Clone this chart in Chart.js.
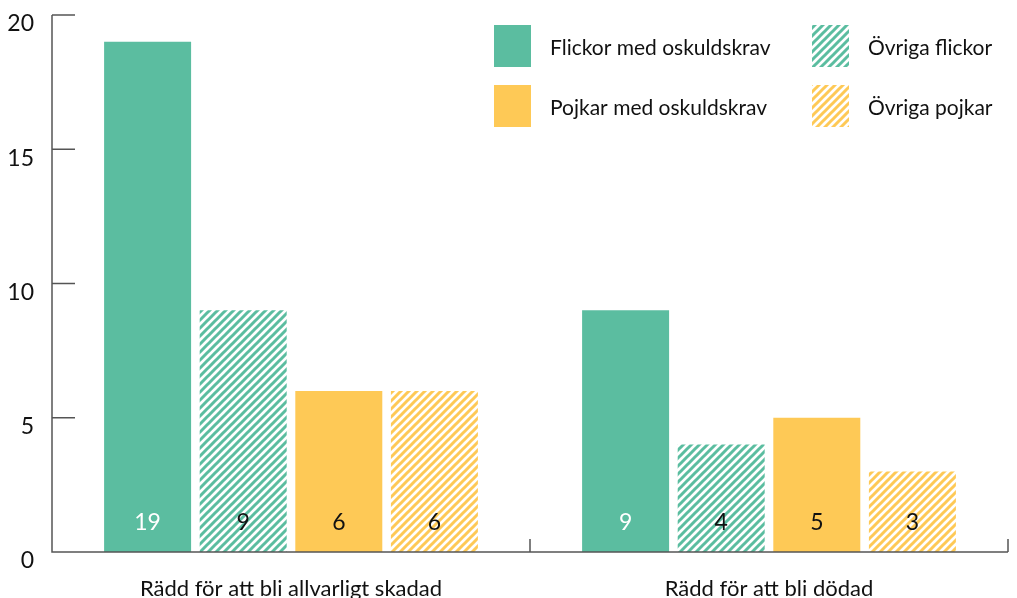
<!DOCTYPE html>
<html>
<head>
<meta charset="utf-8">
<script src="https://cdn.jsdelivr.net/npm/chart.js@4/dist/chart.umd.min.js"></script>
<style>
  html, body { margin: 0; padding: 0; background: #fff; }
  #wrap { width: 1017px; height: 598px; }
</style>
</head>
<body>
<div id="wrap"><canvas id="chart"></canvas></div>
<script>
const categories = ['Rädd för att bli allvarligt skadad', 'Rädd för att bli dödad'];
const seriesNames = ['Flickor med oskuldskrav', 'Övriga flickor', 'Pojkar med oskuldskrav', 'Övriga pojkar'];
const flickorMed = [19, 9];
const ovrigaFlickor = [9, 4];
const pojkarMed = [6, 5];
const ovrigaPojkar = [6, 3];
const yTicks = [0, 5, 10, 15, 20];

const GREEN = '#5bbda0'
const YELLOW = '#fec956'
const AXIS = '#555'
const FONT = 'Lato, "Noto Sans", sans-serif'


function stripes(color) {
    const size = 8
    const c = document.createElement('canvas')
    c.width = size
    c.height = size
    const ctx = c.getContext('2d')
    ctx.fillStyle = '#fff'
    ctx.fillRect(0, 0, size, size)
    ctx.strokeStyle = color
    ctx.lineWidth = 3
    ctx.beginPath()
    ctx.moveTo(-size / 2, size / 2); ctx.lineTo(size / 2, -size / 2)
    ctx.moveTo(0, size); ctx.lineTo(size, 0)
    ctx.moveTo(size / 2, size * 1.5); ctx.lineTo(size * 1.5, size / 2)
    ctx.stroke()
    return ctx.createPattern(c, 'repeat')
}

const fills = [GREEN, stripes(GREEN), YELLOW, stripes(YELLOW)]
const labelColors = ['#fff', '#111', '#111', '#111']


// axes with inward ticks, drawn from the scales
const axesPlugin = {
    id: 'axes',
    afterDatasetsDraw(chart) {
        const { ctx, chartArea, scales: { x, y } } = chart
        ctx.save()
        ctx.strokeStyle = AXIS
        ctx.lineWidth = 1.5
        ctx.beginPath()
        ctx.moveTo(chartArea.left, chartArea.top)
        ctx.lineTo(chartArea.left, chartArea.bottom)
        ctx.lineTo(chartArea.right, chartArea.bottom)
        yTicks.forEach((v) => {
            const py = y.getPixelForValue(v)
            ctx.moveTo(chartArea.left, py)
            ctx.lineTo(chartArea.left + 23, py)
        })
        categories.forEach((c, i) => {
            const px = x.getPixelForValue(i + 0.5)
            ctx.moveTo(px, chartArea.bottom)
            ctx.lineTo(px, chartArea.bottom - 13)
        })
        ctx.stroke()

        // value labels near the bottom of each bar
        ctx.font = '23px ' + FONT
        ctx.textAlign = 'center'
        ctx.textBaseline = 'middle'
        chart.data.datasets.forEach((ds, di) => {
            chart.getDatasetMeta(di).data.forEach((bar, i) => {
                ctx.fillStyle = labelColors[di]
                ctx.fillText(String(ds.data[i]), bar.x, chartArea.bottom - 29)
            })
        })
        ctx.restore()
    }
}


// 2 x 2 legend inside the plot
const legendPlugin = {
    id: 'gridLegend',
    afterDraw(chart) {
        const { ctx } = chart
        const cols = [494, 812]
        const rows = [25, 85]
        ctx.save()
        ctx.font = '21px ' + FONT
        ctx.textBaseline = 'middle'
        ctx.textAlign = 'left'
        chart.data.datasets.forEach((ds, i) => {
            const bx = cols[i % 2]
            const by = rows[Math.floor(i / 2)]
            ctx.fillStyle = ds.backgroundColor
            ctx.fillRect(bx, by, 37, 42)
            ctx.fillStyle = '#111'
            ctx.fillText(ds.label, bx + 56, by + 23)
        })
        ctx.restore()
    }
}


new Chart(document.getElementById('chart'), {
    type: 'bar',
    data: {
        labels: categories,
        datasets: [flickorMed, ovrigaFlickor, pojkarMed, ovrigaPojkar].map((d, i) => ({
            label: seriesNames[i],
            data: d,
            backgroundColor: fills[i],
            borderWidth: 0,
            categoryPercentage: 0.8,
            barPercentage: 0.91
        }))
    },
    options: {
        responsive: true,
        maintainAspectRatio: false,
        animation: false,
        layout: { padding: { top: 15, right: 9, left: 0, bottom: 0 } },
        plugins: {
            legend: { display: false },
            tooltip: { enabled: false }
        },
        scales: {
            x: {
                grid: { display: false, drawTicks: false },
                border: { display: false },
                ticks: {
                    color: '#111',
                    font: { family: FONT, size: 22 },
                    padding: 24,
                    maxRotation: 0
                },
                afterFit(scale) {
                    scale.height = 46
                    scale.paddingLeft = 0
                    scale.paddingRight = 0
                }
            },
            y: {
                min: 0,
                max: 20,
                afterBuildTicks(scale) { scale.ticks = yTicks.map((v) => ({ value: v })) },
                grid: { display: false, drawTicks: false },
                border: { display: false },
                ticks: {
                    color: '#111',
                    font: { family: FONT, size: 23 },
                    padding: 18,
                    labelOffset: 9
                },
                afterFit(scale) {
                    scale.width = 52
                    scale.paddingTop = 0
                    scale.paddingBottom = 0
                }
            }
        }
    },
    plugins: [axesPlugin, legendPlugin]
});
</script>
</body>
</html>
